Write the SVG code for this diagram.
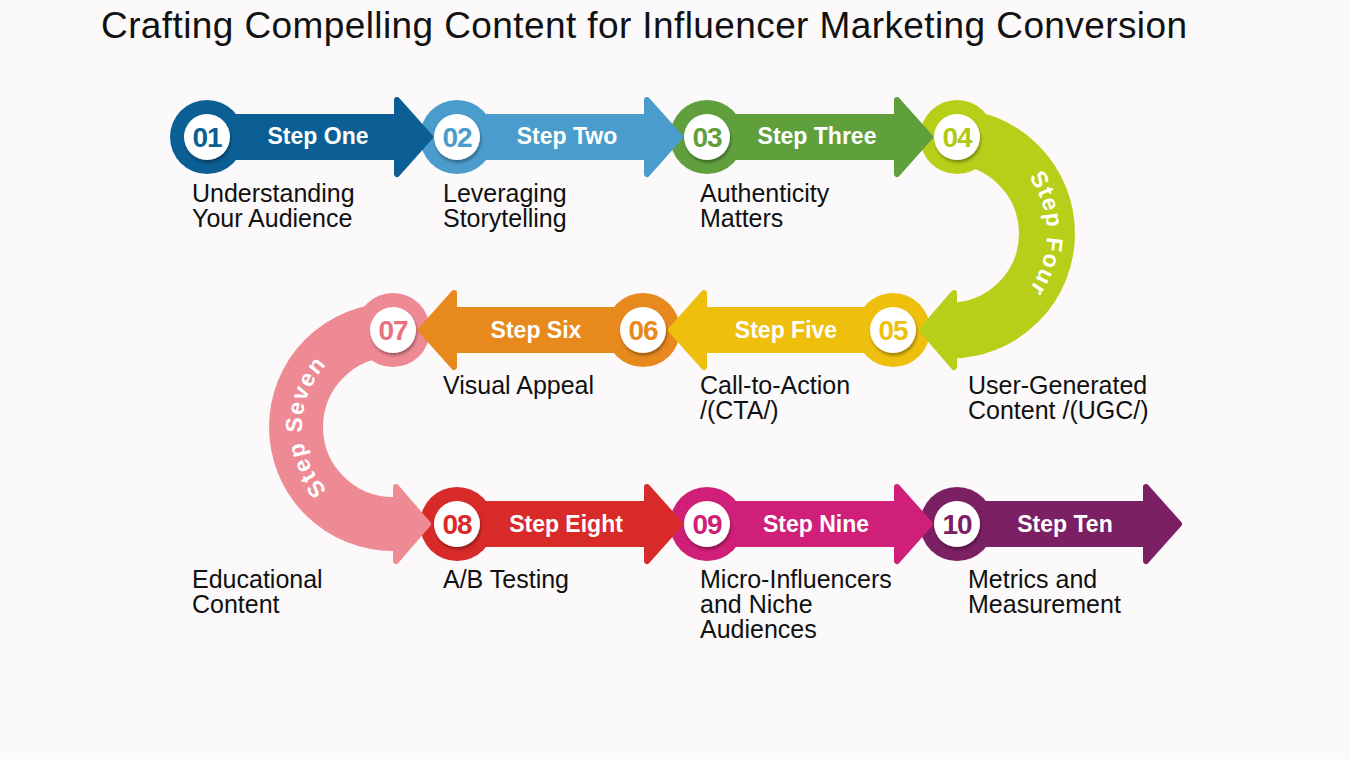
<svg xmlns="http://www.w3.org/2000/svg" width="1350" height="759" viewBox="0 0 1350 759">
<defs>
<style>
.title{font-family:"Liberation Sans",Arial,sans-serif;font-size:37px;fill:#111}
.lbl{font-family:"Liberation Sans",Arial,sans-serif;font-size:25px;fill:#111}
.step{font-family:"Liberation Sans",Arial,sans-serif;font-size:23px;font-weight:bold;fill:#fff;text-anchor:middle}
.num{font-family:"Liberation Sans",Arial,sans-serif;font-size:28px;font-weight:bold;text-anchor:middle;letter-spacing:-1px}
.arr{stroke-width:6;stroke-linejoin:round}
.white{fill:#fff;filter:url(#sh)}
</style>
<filter id="sh" x="-30%" y="-30%" width="160%" height="170%">
<feDropShadow dx="1" dy="2.5" stdDeviation="1.5" flood-color="#000" flood-opacity="0.35"/>
</filter>
<path id="p4" d="M 950 136.5 A 97 97 0 0 1 950 330.5"/>
<path id="p7" d="M 393 518 A 91 91 0 0 1 393 336"/>
</defs>
<rect width="1350" height="759" fill="#fbf9fa"/>
<text class="title" x="101" y="38" textLength="1086">Crafting Compelling Content for Influencer Marketing Conversion</text>

<g id="connectors"></g>

<g id="step10">
<circle cx="957" cy="524" r="37" fill="#7b2063"/>
<path class="arr" fill="#7b2063" stroke="#7b2063" d="M 957 504 H 1146 V 487 L 1179 524 L 1146 561 V 544 H 957 Z"/>
<circle class="white" cx="957" cy="524" r="23"/>
<text class="num" x="957" y="534" fill="#7b2063">10</text>
<text class="step" x="1065" y="532">Step Ten</text>
<text class="lbl" x="968" y="588">Metrics and</text>
<text class="lbl" x="968" y="613">Measurement</text>
</g>

<g id="step9">
<circle cx="707" cy="524" r="37" fill="#cf1f78"/>
<path class="arr" fill="#cf1f78" stroke="#cf1f78" d="M 707 504 H 897 V 487 L 930 524 L 897 561 V 544 H 707 Z"/>
<circle class="white" cx="707" cy="524" r="23"/>
<text class="num" x="707" y="534" fill="#cf1f78">09</text>
<text class="step" x="816" y="532">Step Nine</text>
<text class="lbl" x="700" y="588">Micro-Influencers</text>
<text class="lbl" x="700" y="613">and Niche</text>
<text class="lbl" x="700" y="638">Audiences</text>
</g>

<g id="step8">
<circle cx="457" cy="524" r="37" fill="#d92a2a"/>
<path class="arr" fill="#d92a2a" stroke="#d92a2a" d="M 457 504 H 647 V 487 L 680 524 L 647 561 V 544 H 457 Z"/>
<circle class="white" cx="457" cy="524" r="23"/>
<text class="num" x="457" y="534" fill="#d92a2a">08</text>
<text class="step" x="566" y="532">Step Eight</text>
<text class="lbl" x="443" y="588">A/B Testing</text>
</g>

<g id="step7">
<path d="M 393 330 A 97 97 0 0 0 393 524 L 402 524" fill="none" stroke="#ee8a94" stroke-width="54"/>
<path class="arr" fill="#ee8a94" stroke="#ee8a94" d="M 396 506 V 487 L 428 524 L 396 561 V 542 Z"/>
<circle cx="393" cy="330" r="37" fill="#ee8a94"/>
<circle class="white" cx="393" cy="330" r="23"/>
<text class="num" x="393" y="340" fill="#e9707c">07</text>
<text class="step" font-size="22" letter-spacing="1.5"><textPath href="#p7" startOffset="50%">Step Seven</textPath></text>
<text class="lbl" x="192" y="588">Educational</text>
<text class="lbl" x="192" y="613">Content</text>
</g>

<g id="step6">
<circle cx="643" cy="330" r="37" fill="#e8891e"/>
<path class="arr" fill="#e8891e" stroke="#e8891e" d="M 643 310 H 454 V 293 L 421 330 L 454 367 V 350 H 643 Z"/>
<circle class="white" cx="643" cy="330" r="23"/>
<text class="num" x="643" y="340" fill="#e8891e">06</text>
<text class="step" x="536" y="338">Step Six</text>
<text class="lbl" x="443" y="394">Visual Appeal</text>
</g>

<g id="step5">
<circle cx="893" cy="330" r="37" fill="#efbf0e"/>
<path class="arr" fill="#efbf0e" stroke="#efbf0e" d="M 893 310 H 704 V 293 L 671 330 L 704 367 V 350 H 893 Z"/>
<circle class="white" cx="893" cy="330" r="23"/>
<text class="num" x="893" y="340" fill="#efbf0e">05</text>
<text class="step" x="786" y="338">Step Five</text>
<text class="lbl" x="700" y="394">Call-to-Action</text>
<text class="lbl" x="700" y="419">/(CTA/)</text>
</g>

<g id="step4">
<path d="M 950 136.5 A 97 97 0 0 1 950 330.5 L 946 330.5" fill="none" stroke="#b8cf1a" stroke-width="56"/>
<path class="arr" fill="#b8cf1a" stroke="#b8cf1a" d="M 954 311 V 293 L 922 330 L 954 367 V 349 Z"/>
<circle cx="957" cy="137" r="37" fill="#b8cf1a"/>
<circle class="white" cx="957" cy="137" r="23"/>
<text class="num" x="957" y="147" fill="#b0c916">04</text>
<text class="step" letter-spacing="1.5"><textPath href="#p4" startOffset="50%">Step Four</textPath></text>
<text class="lbl" x="968" y="394">User-Generated</text>
<text class="lbl" x="968" y="419">Content /(UGC/)</text>
</g>

<g id="step3">
<circle cx="707" cy="137" r="37" fill="#5fa03d"/>
<path class="arr" fill="#5fa03d" stroke="#5fa03d" d="M 707 117 H 897 V 100 L 930 137 L 897 174 V 157 H 707 Z"/>
<circle class="white" cx="707" cy="137" r="23"/>
<text class="num" x="707" y="147" fill="#5fa03d">03</text>
<text class="step" x="817" y="144">Step Three</text>
<text class="lbl" x="700" y="202">Authenticity</text>
<text class="lbl" x="700" y="227">Matters</text>
</g>

<g id="step2">
<circle cx="457" cy="137" r="37" fill="#4a9ccc"/>
<path class="arr" fill="#4a9ccc" stroke="#4a9ccc" d="M 457 117 H 647 V 100 L 680 137 L 647 174 V 157 H 457 Z"/>
<circle class="white" cx="457" cy="137" r="23"/>
<text class="num" x="457" y="147" fill="#4a9ccc">02</text>
<text class="step" x="567" y="144">Step Two</text>
<text class="lbl" x="443" y="202">Leveraging</text>
<text class="lbl" x="443" y="227">Storytelling</text>
</g>

<g id="step1">
<circle cx="207" cy="137" r="37" fill="#0b5f94"/>
<path class="arr" fill="#0b5f94" stroke="#0b5f94" d="M 207 117 H 397 V 100 L 430 137 L 397 174 V 157 H 207 Z"/>
<circle class="white" cx="207" cy="137" r="23"/>
<text class="num" x="207" y="147" fill="#0b5f94">01</text>
<text class="step" x="318" y="144">Step One</text>
<text class="lbl" x="192" y="202">Understanding</text>
<text class="lbl" x="192" y="227">Your Audience</text>
</g>
</svg>
